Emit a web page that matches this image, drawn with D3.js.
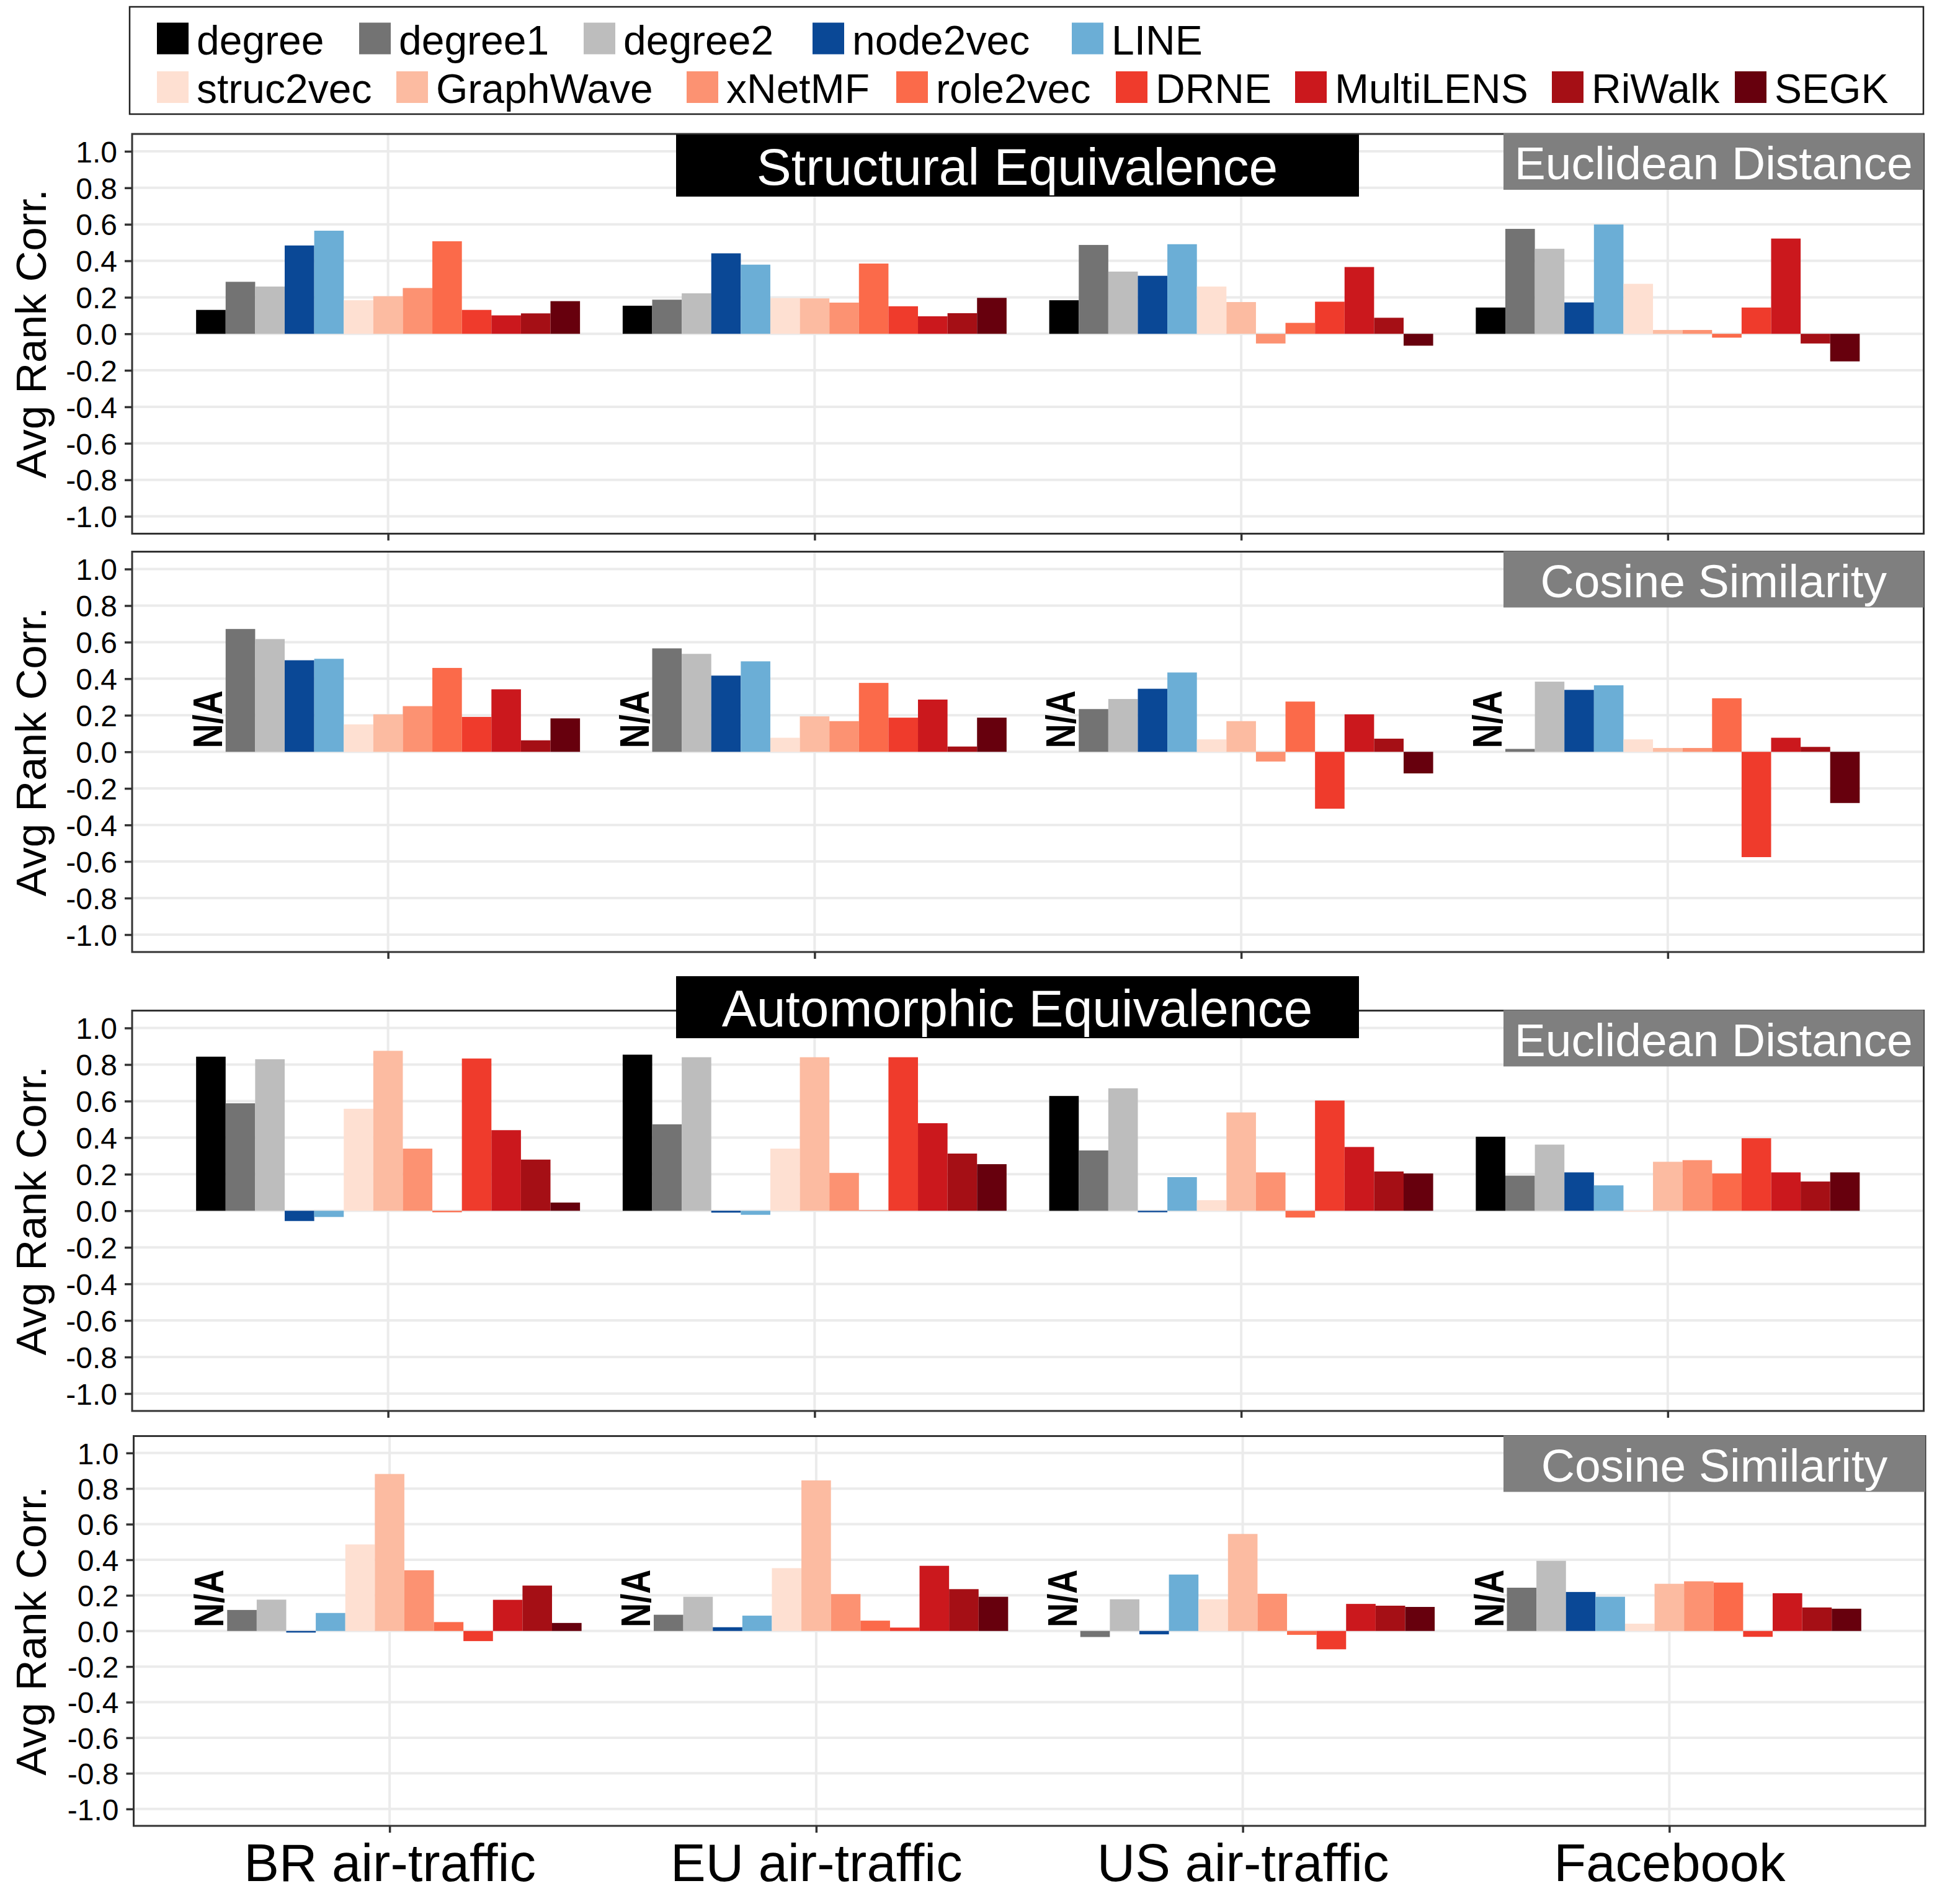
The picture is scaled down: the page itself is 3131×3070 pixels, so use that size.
<!DOCTYPE html>
<html>
<head>
<meta charset="utf-8">
<script src="https://cdn.jsdelivr.net/npm/d3@7"></script>
<style>
  html, body { margin: 0; padding: 0; background: #ffffff; }
  svg { display: block; }
  text { font-family: "Liberation Sans", Arial, Helvetica, sans-serif; }
</style>
</head>
<body>
<script>
// ---------------- DATA ----------------
const methods = ["degree","degree1","degree2","node2vec","LINE","struc2vec","GraphWave","xNetMF","role2vec","DRNE","MultiLENS","RiWalk","SEGK"];
const methodColors = ["#000000","#737373","#bdbdbd","#0a4896","#6baed6","#fee0d2","#fcbba1","#fc9272","#fb6a4a","#ef3b2c","#cb181d","#a50f15","#67000d"];
const datasets = ["BR air-traffic","EU air-traffic","US air-traffic","Facebook"];
const yTicks = [-1.0,-0.8,-0.6,-0.4,-0.2,0.0,0.2,0.4,0.6,0.8,1.0];
const groupTitles = ["Structural Equivalence","Automorphic Equivalence"];
const stripLabels = ["Euclidean Distance","Cosine Similarity","Euclidean Distance","Cosine Similarity"];
const yLabel = "Avg Rank Corr.";
const naLabel = "N/A";

// values: one row per dataset, one entry per method (null = N/A)
const structEuclid = [
  [0.131,0.285,0.259,0.484,0.565,0.184,0.206,0.251,0.507,0.131,0.101,0.112,0.179],
  [0.154,0.187,0.222,0.441,0.379,0.196,0.194,0.171,0.385,0.151,0.096,0.113,0.197],
  [0.184,0.487,0.341,0.318,0.491,0.259,0.174,-0.053,0.060,0.176,0.366,0.088,-0.065],
  [0.144,0.575,0.466,0.172,0.599,0.274,0.021,0.021,-0.021,0.144,0.522,-0.053,-0.151]
];
const structCosine = [
  [null,0.672,0.617,0.501,0.509,0.150,0.205,0.250,0.459,0.191,0.342,0.063,0.183],
  [null,0.566,0.536,0.417,0.495,0.077,0.194,0.168,0.377,0.187,0.286,0.029,0.187],
  [null,0.234,0.289,0.345,0.434,0.068,0.168,-0.053,0.275,-0.311,0.205,0.072,-0.118],
  [null,0.016,0.384,0.339,0.364,0.068,0.021,0.021,0.293,-0.576,0.077,0.027,-0.280]
];
const autoEuclid = [
  [0.843,0.588,0.829,-0.056,-0.034,0.558,0.875,0.340,-0.008,0.833,0.441,0.280,0.045],
  [0.854,0.473,0.840,-0.010,-0.022,0.340,0.840,0.207,0.003,0.840,0.479,0.313,0.255],
  [0.628,0.330,0.670,-0.008,0.184,0.058,0.538,0.210,-0.037,0.603,0.349,0.215,0.204],
  [0.405,0.192,0.362,0.210,0.139,-0.005,0.268,0.277,0.204,0.397,0.210,0.160,0.210]
];
const autoCosine = [
  [null,0.118,0.176,-0.009,0.101,0.486,0.882,0.341,0.050,-0.057,0.175,0.255,0.045],
  [null,0.091,0.192,0.021,0.086,0.353,0.846,0.207,0.058,0.019,0.366,0.235,0.192],
  [null,-0.034,0.178,-0.019,0.317,0.178,0.545,0.209,-0.022,-0.103,0.152,0.142,0.135],
  [null,0.243,0.394,0.219,0.192,0.041,0.265,0.279,0.272,-0.033,0.212,0.132,0.125]
];
const panelValues = [structEuclid, structCosine, autoEuclid, autoCosine];

// ---------------- LAYOUT ----------------
const W = 3131, H = 3070;
const FONT = '"Liberation Sans", Arial, Helvetica, sans-serif';
const panels = [
  {top: 216,    bottom: 860.5, left: 213,   right: 3101.5, title: 0, titleTop: 217},
  {top: 889.5,  bottom: 1535,  left: 213,   right: 3101.5},
  {top: 1629.5, bottom: 2275,  left: 213,   right: 3101.5, title: 1, titleTop: 1574},
  {top: 2315.5, bottom: 2944,  left: 215.5, right: 3104}
];
const legendBox = {x: 209, y: 11, w: 2892, h: 173};
const legendRows = [
  {items: [0,1,2,3,4], keyX: [253,579,941,1310,1728], keyY: 36.5},
  {items: [5,6,7,8,9,10,11,12], keyX: [253,639,1107,1445,1799,2088,2502,2797], keyY: 115}
];

const svg = d3.select("body").append("svg")
  .attr("width", W).attr("height", H)
  .attr("viewBox", `0 0 ${W} ${H}`);

svg.append("rect").attr("width", W).attr("height", H).attr("fill", "#ffffff");

// ---------------- LEGEND ----------------
const lg = svg.append("g").attr("class", "legend");
lg.append("rect")
  .attr("x", legendBox.x).attr("y", legendBox.y)
  .attr("width", legendBox.w).attr("height", legendBox.h)
  .attr("fill", "#ffffff").attr("stroke", "#222222").attr("stroke-width", 2.5);
legendRows.forEach(row => {
  row.items.forEach((mi, k) => {
    const kx = row.keyX[k];
    lg.append("rect")
      .attr("x", kx).attr("y", row.keyY)
      .attr("width", 51).attr("height", 51)
      .attr("fill", methodColors[mi]);
    lg.append("text")
      .attr("x", kx + 64).attr("y", row.keyY + 51)
      .attr("font-size", 66).attr("fill", "#000")
      .text(methods[mi]);
  });
});

// ---------------- PANELS ----------------
panels.forEach((p, pi) => {
  const g = svg.append("g").attr("class", "panel");
  const values = panelValues[pi];

  const x = d3.scalePoint().domain(datasets).range([p.left, p.right]).padding(0.6);
  const step = x.step();
  const xInner = d3.scaleBand().domain(methods).range([-0.45 * step, 0.45 * step]);
  const y = d3.scaleLinear().domain([-1.095, 1.095]).range([p.bottom, p.top]);

  // panel background
  g.append("rect").attr("x", p.left).attr("y", p.top)
    .attr("width", p.right - p.left).attr("height", p.bottom - p.top)
    .attr("fill", "#ffffff");

  // gridlines
  g.append("g").selectAll("line.hg").data(yTicks).join("line")
    .attr("x1", p.left).attr("x2", p.right)
    .attr("y1", d => y(d)).attr("y2", d => y(d))
    .attr("stroke", "#ebebeb").attr("stroke-width", 4);
  g.append("g").selectAll("line.vg").data(datasets).join("line")
    .attr("x1", d => x(d)).attr("x2", d => x(d))
    .attr("y1", p.top).attr("y2", p.bottom)
    .attr("stroke", "#ebebeb").attr("stroke-width", 4);

  // bars
  const barData = [];
  datasets.forEach((ds, di) => {
    methods.forEach((m, mi) => {
      barData.push({ds, m, mi, v: values[di][mi]});
    });
  });
  g.append("g").selectAll("rect.bar").data(barData.filter(d => d.v !== null)).join("rect")
    .attr("x", d => x(d.ds) + xInner(d.m))
    .attr("width", xInner.bandwidth())
    .attr("y", d => y(Math.max(0, d.v)))
    .attr("height", d => Math.abs(y(d.v) - y(0)))
    .attr("fill", d => methodColors[d.mi]);

  // N/A labels
  g.append("g").selectAll("text.na").data(barData.filter(d => d.v === null)).join("text")
    .attr("transform", d => {
      const cx = x(d.ds) + xInner(d.m) + xInner.bandwidth() / 2 + 18;
      return `translate(${cx},${y(0) - 6}) rotate(-90)`;
    })
    .attr("font-size", 66).attr("font-weight", "bold").attr("fill", "#000")
    .attr("textLength", 93).attr("lengthAdjust", "spacingAndGlyphs")
    .text(naLabel);

  // panel border
  g.append("rect").attr("x", p.left).attr("y", p.top)
    .attr("width", p.right - p.left).attr("height", p.bottom - p.top)
    .attr("fill", "none").attr("stroke", "#333333").attr("stroke-width", 3);

  // y axis
  const yAxis = d3.axisLeft(y).tickValues(yTicks).tickSize(12).tickPadding(12)
    .tickFormat(d => d3.format(".1f")(d).replace("\u2212", "-"));
  const ya = g.append("g").attr("transform", `translate(${p.left},0)`).call(yAxis);
  ya.select(".domain").remove();
  ya.selectAll(".tick line").attr("stroke", "#333333").attr("stroke-width", 3.5);
  ya.selectAll(".tick text").attr("font-size", 48).attr("fill", "#000")
    .attr("font-family", FONT).attr("dy", "0.36em");

  // x axis ticks (labels only on the last panel)
  const xAxis = d3.axisBottom(x).tickSize(11).tickPadding(18)
    .tickFormat(pi === panels.length - 1 ? (d => d) : () => "");
  const xa = g.append("g").attr("transform", `translate(0,${p.bottom})`).call(xAxis);
  xa.select(".domain").remove();
  xa.selectAll(".tick line").attr("stroke", "#333333").attr("stroke-width", 3.5);
  xa.selectAll(".tick text").attr("font-size", 85).attr("fill", "#000")
    .attr("font-family", FONT).attr("dy", "0.71em");

  // y label
  g.append("text")
    .attr("transform", `translate(74,${(p.top + p.bottom) / 2}) rotate(-90)`)
    .attr("text-anchor", "middle").attr("font-size", 69).attr("fill", "#000")
    .text(yLabel);

  // strip label (grey box at top-right)
  const sx = 2424, sh = 91;
  g.append("rect").attr("x", sx).attr("y", p.top - 1)
    .attr("width", p.right - sx).attr("height", sh)
    .attr("fill", "#7f7f7f");
  g.append("text")
    .attr("x", (sx + p.right) / 2).attr("y", p.top - 1 + 74)
    .attr("text-anchor", "middle").attr("font-size", 75).attr("fill", "#ffffff")
    .text(stripLabels[pi]);

  // group title (black box)
  if (p.title !== undefined) {
    g.append("rect").attr("x", 1090).attr("y", p.titleTop)
      .attr("width", 1101).attr("height", 100).attr("fill", "#000000");
    g.append("text")
      .attr("x", 1640).attr("y", p.titleTop + 81)
      .attr("text-anchor", "middle").attr("font-size", 84).attr("fill", "#ffffff")
      .text(groupTitles[p.title]);
  }
});
</script>
</body>
</html>
